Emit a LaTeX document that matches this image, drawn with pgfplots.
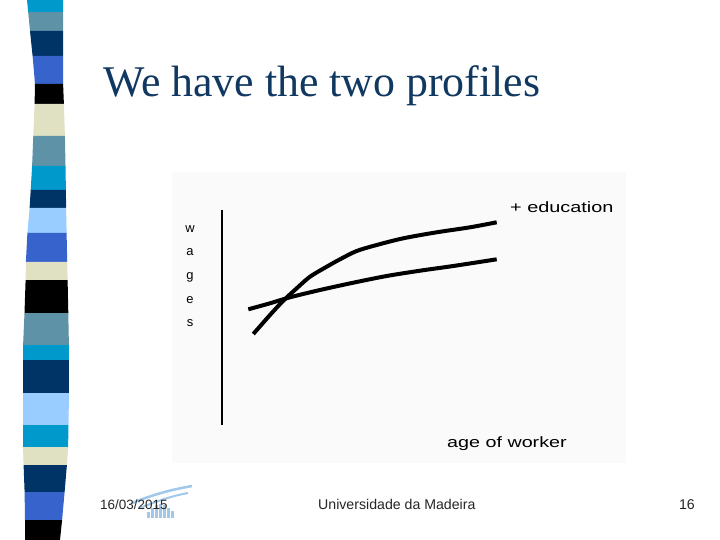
\documentclass[border=0pt]{standalone}
\usepackage{fontspec}
\setmainfont{Liberation Serif}
\newfontfamily\arial{Liberation Sans}
\usepackage{graphicx}
\usepackage{pgfplots}
\pgfplotsset{compat=1.18}
\definecolor{cy}{RGB}{0,153,204}
\definecolor{st}{RGB}{94,146,167}
\definecolor{nv}{RGB}{0,51,102}
\definecolor{ry}{RGB}{54,100,204}
\definecolor{bg}{RGB}{224,224,194}
\definecolor{lb}{RGB}{153,204,255}
\definecolor{titleblue}{RGB}{16,56,96}
\definecolor{panel}{RGB}{250,250,250}
\definecolor{logo}{RGB}{160,200,235}
\begin{document}
\begin{tikzpicture}
\begin{axis}[scale only axis, width=720bp, height=540bp,
  xmin=0, xmax=720, ymin=0, ymax=540, y dir=reverse,
  hide axis, clip=false]
\fill[white] (0,0) rectangle (720,540);
\fill[panel] (172,172) rectangle (626,463);
% stripes
\fill[cy] (27,0) -- (63,0) -- (63,12) -- (28.2,12) -- cycle;
\fill[st] (28.2,12) -- (63,12) -- (63,31) -- (30,31) -- cycle;
\fill[nv] (30,31) -- (63,31) -- (63,56) -- (32.6,56) -- cycle;
\fill[ry] (32.6,56) -- (63,56) -- (63.1,84) -- (35,84) -- cycle;
\fill[black] (35,84) -- (63.1,84) -- (63.9,104) -- (34.6,104) -- cycle;
\fill[bg] (34.6,104) -- (63.9,104) -- (64.9,136) -- (33.3,136) -- cycle;
\fill[st] (33.3,136) -- (64.9,136) -- (65.5,166) -- (32.1,166) -- cycle;
\fill[cy] (32.1,166) -- (65.5,166) -- (65.9,190) -- (30.7,190) -- cycle;
\fill[nv] (30.7,190) -- (65.9,190) -- (66.1,208) -- (29.6,208) -- cycle;
\fill[lb] (29.6,208) -- (66.1,208) -- (66.6,233) -- (27.4,233) -- cycle;
\fill[ry] (27.4,233) -- (66.6,233) -- (67.2,262) -- (25.9,262) -- cycle;
\fill[bg] (25.9,262) -- (67.2,262) -- (67.6,280) -- (25.6,280) -- cycle;
\fill[black] (25.6,280) -- (67.6,280) -- (68.3,313) -- (24.5,313) -- cycle;
\fill[st] (24.5,313) -- (68.3,313) -- (68.9,345) -- (23.1,345) -- cycle;
\fill[cy] (23.1,345) -- (68.9,345) -- (69,360) -- (23,360) -- cycle;
\fill[nv] (23,360) -- (69,360) -- (69,393) -- (23,393) -- cycle;
\fill[lb] (23,393) -- (69,393) -- (68.5,425) -- (23,425) -- cycle;
\fill[cy] (23,425) -- (68.5,425) -- (68.1,447) -- (23,447) -- cycle;
\fill[bg] (23,447) -- (68.1,447) -- (66.9,465) -- (23.6,465) -- cycle;
\fill[nv] (23.6,465) -- (66.9,465) -- (64.6,492) -- (24.6,492) -- cycle;
\fill[ry] (24.6,492) -- (64.6,492) -- (62.1,520) -- (25,520) -- cycle;
\fill[black] (25,520) -- (62.1,520) -- (60,540) -- (25,540) -- cycle;
% y axis line
\addplot[black, line width=2.3bp] coordinates {(221.7,210) (221.7,425)};
% profile without extra education
\addplot[black, line width=4bp, smooth] coordinates {
 (248.3,309.3) (270,303.3) (290,297.3) (320,290) (353.3,282.7)
 (386.7,276) (420,270.7) (453.3,266) (496.7,259.3)};
% profile with more education
\addplot[black, line width=4bp, smooth] coordinates {
 (253.3,334) (270,315) (283.3,300.7) (296.7,288.3) (310,276.7)
 (326.7,266.7) (340,259.3) (356.7,251) (376.7,245) (403.3,238.3)
 (436.7,232.3) (470,227.3) (496.7,222.3)};
% labels
\node[anchor=base west, inner sep=0, text=titleblue] at (103,97)
  {\fontsize{44}{50}\selectfont We have the two profiles};
\node[anchor=base west, inner sep=0] at (510,212.5)
  {\scalebox{1.33}[1]{\arial\fontsize{15}{15}\selectfont + education}};
\node[anchor=base west, inner sep=0] at (447,447.3)
  {\scalebox{1.32}[1]{\arial\fontsize{15}{15}\selectfont age of worker}};
\node[anchor=base, inner sep=0] at (190,232.5) {\arial\fontsize{13}{13}\selectfont w};
\node[anchor=base, inner sep=0] at (190,256) {\arial\fontsize{13}{13}\selectfont a};
\node[anchor=base, inner sep=0] at (190,280) {\arial\fontsize{13}{13}\selectfont g};
\node[anchor=base, inner sep=0] at (190,303) {\arial\fontsize{13}{13}\selectfont e};
\node[anchor=base, inner sep=0] at (190,326.5) {\arial\fontsize{13}{13}\selectfont s};
% footer logo
\draw[logo, line width=2.5bp] (132,503) .. controls (155,494) and (170,490) .. (192,486);
\draw[logo, line width=2bp] (140,508) .. controls (160,500) and (172,496) .. (188,493);
\fill[logo] (146.5,512) rectangle (149.5,518);
\fill[logo] (150.5,508) rectangle (153.5,518);
\fill[logo] (154.5,505) rectangle (157.5,518);
\fill[logo] (158.5,504) rectangle (161.5,518);
\fill[logo] (162.5,505) rectangle (165.5,518);
\fill[logo] (166.5,508) rectangle (169.5,518);
\fill[logo] (170.5,511) rectangle (173.5,518);
% footer text
\node[anchor=base west, inner sep=0, text=black!85] at (100,509.5)
  {\arial\fontsize{13.5}{14}\selectfont 16/03/2015};
\node[anchor=base west, inner sep=0, text=black!85] at (318,509.5)
  {\arial\fontsize{14.2}{15}\selectfont Universidade da Madeira};
\node[anchor=base east, inner sep=0, text=black!85] at (695,509.5)
  {\arial\fontsize{14.2}{15}\selectfont 16};
\end{axis}
\end{tikzpicture}
\end{document}
